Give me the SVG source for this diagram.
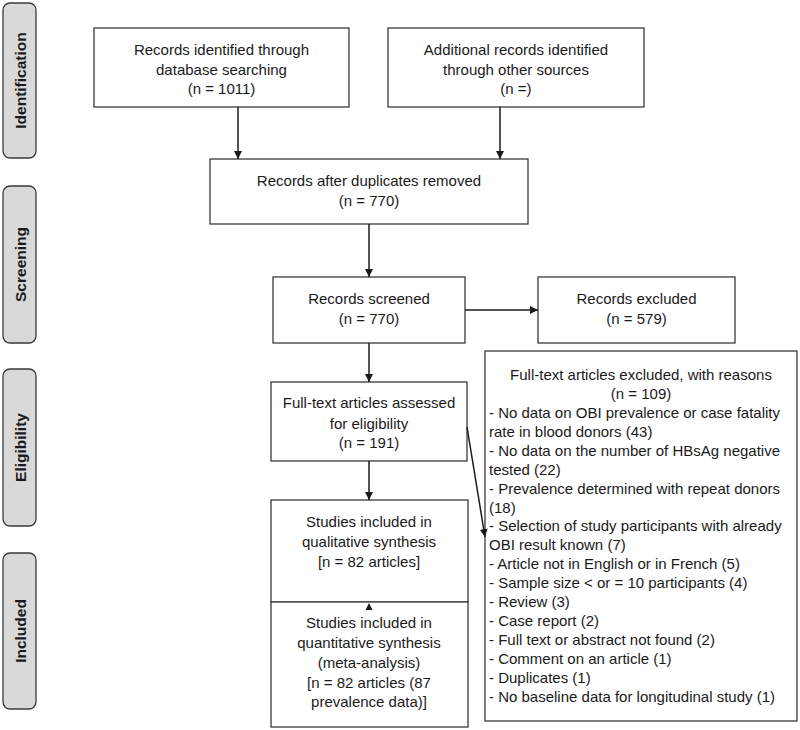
<svg xmlns="http://www.w3.org/2000/svg" width="800" height="730" viewBox="0 0 800 730">
<style>
text{font-family:"Liberation Sans",Arial,sans-serif;font-size:15px;fill:#1a1a1a}
.c{text-anchor:middle}
.side{font-weight:bold;font-size:15.5px;text-anchor:middle}
.box{fill:#fff;stroke:#3a3a3a;stroke-width:1.3}
.lab{fill:#d9d9d9;stroke:#3a3a3a;stroke-width:1.3}
.conn{stroke:#1a1a1a;stroke-width:1.5;fill:none}
</style>
<defs>
<marker id="ah" viewBox="0 0 10 10" refX="10" refY="5" markerWidth="8" markerHeight="8" markerUnits="userSpaceOnUse" orient="auto">
<path d="M0,0 L10,5 L0,10 z" fill="#1a1a1a"/>
</marker>
</defs>
<rect width="800" height="730" fill="#fff"/>
<g id="lab-identification"><rect class="lab" x="3" y="3" width="33" height="155" rx="7"/><text class="side" transform="translate(25.5,80.5) rotate(-90)">Identification</text></g>
<g id="lab-screening"><rect class="lab" x="3" y="186" width="33" height="157" rx="7"/><text class="side" transform="translate(25.5,264.5) rotate(-90)">Screening</text></g>
<g id="lab-eligibility"><rect class="lab" x="3" y="369" width="33" height="157" rx="7"/><text class="side" transform="translate(25.5,447.5) rotate(-90)">Eligibility</text></g>
<g id="lab-included"><rect class="lab" x="3" y="553" width="33" height="156" rx="7"/><text class="side" transform="translate(25.5,631) rotate(-90)">Included</text></g>

<g id="n-db"><rect class="box" x="94" y="28" width="255" height="79"/>
<text class="c" x="221.5" y="55">Records identified through</text>
<text class="c" x="221.5" y="75">database searching</text>
<text class="c" x="221.5" y="94">(n = 1011)</text></g>
<g id="n-other"><rect class="box" x="388" y="28" width="256" height="79"/>
<text class="c" x="516" y="55">Additional records identified</text>
<text class="c" x="516" y="75">through other sources</text>
<text class="c" x="516" y="94">(n =)</text></g>
<g id="n-dup"><rect class="box" x="210" y="159" width="318" height="65"/>
<text class="c" x="369" y="186">Records after duplicates removed</text>
<text class="c" x="369" y="206">(n = 770)</text></g>
<g id="n-screened"><rect class="box" x="273" y="277" width="192" height="66"/>
<text class="c" x="369" y="304">Records screened</text>
<text class="c" x="369" y="324">(n = 770)</text></g>
<g id="n-excluded"><rect class="box" x="538" y="277" width="197" height="66"/>
<text class="c" x="636.5" y="304">Records excluded</text>
<text class="c" x="636.5" y="324">(n = 579)</text></g>
<g id="n-fulltext"><rect class="box" x="271" y="382" width="196" height="79"/>
<text class="c" x="369" y="408">Full-text articles assessed</text>
<text class="c" x="369" y="429">for eligibility</text>
<text class="c" x="369" y="448">(n = 191)</text></g>
<g id="n-ftexcl"><rect class="box" x="485" y="351" width="312" height="370"/>
<text class="c" x="641" y="380">Full-text articles excluded, with reasons</text>
<text class="c" x="641" y="399">(n = 109)</text>
<text x="489" y="418">- No data on OBI prevalence or case fatality</text>
<text x="489" y="437">rate in blood donors (43)</text>
<text x="489" y="456">- No data on the number of HBsAg negative</text>
<text x="489" y="475">tested (22)</text>
<text x="489" y="494">- Prevalence determined with repeat donors</text>
<text x="489" y="513">(18)</text>
<text x="489" y="531">- Selection of study participants with already</text>
<text x="489" y="550">OBI result known (7)</text>
<text x="489" y="569">- Article not in English or in French (5)</text>
<text x="489" y="588">- Sample size &lt; or = 10 participants (4)</text>
<text x="489" y="607">- Review (3)</text>
<text x="489" y="626">- Case report (2)</text>
<text x="489" y="645">- Full text or abstract not found (2)</text>
<text x="489" y="664">- Comment on an article (1)</text>
<text x="489" y="683">- Duplicates (1)</text>
<text x="489" y="702">- No baseline data for longitudinal study (1)</text></g>
<g id="n-qual"><rect class="box" x="271" y="500" width="197" height="102"/>
<text class="c" x="369" y="527">Studies included in</text>
<text class="c" x="369" y="547">qualitative synthesis</text>
<text class="c" x="369" y="567">[n = 82 articles]</text></g>
<g id="n-quant"><rect class="box" x="271" y="602" width="197" height="125"/>
<text class="c" x="369" y="628">Studies included in</text>
<text class="c" x="369" y="648">quantitative synthesis</text>
<text class="c" x="369" y="668">(meta-analysis)</text>
<text class="c" x="369" y="688">[n = 82 articles (87</text>
<text class="c" x="369" y="707">prevalence data)]</text></g>

<g id="connectors">
<line class="conn" x1="238" y1="107" x2="238" y2="159" marker-end="url(#ah)"/>
<line class="conn" x1="500" y1="107" x2="500" y2="159" marker-end="url(#ah)"/>
<line class="conn" x1="369" y1="224" x2="369" y2="277" marker-end="url(#ah)"/>
<line class="conn" x1="465" y1="310" x2="538" y2="310" marker-end="url(#ah)"/>
<line class="conn" x1="369" y1="343" x2="369" y2="382" marker-end="url(#ah)"/>
<line class="conn" x1="369" y1="461" x2="369" y2="500" marker-end="url(#ah)"/>
<line class="conn" x1="467" y1="427" x2="485" y2="537" marker-end="url(#ah)"/>
<path d="M365.5,610 L372.5,610 L369,603 z" fill="#1a1a1a"/>
</g>
</svg>
